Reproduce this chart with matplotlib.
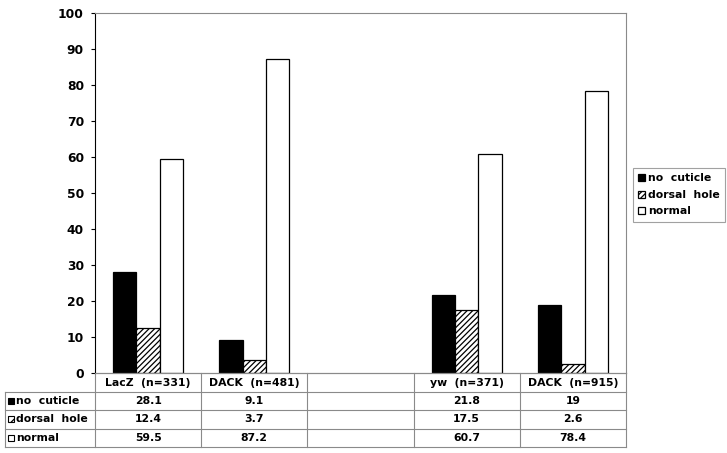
import numpy as np
import matplotlib
matplotlib.use("Agg")
import matplotlib.pyplot as plt
from matplotlib.patches import Rectangle
from matplotlib.lines import Line2D

GROUPS = ["LacZ  (n=331)", "DACK  (n=481)", "", "yw  (n=371)", "DACK  (n=915)"]
NO_CUTICLE = [28.1, 9.1, None, 21.8, 19]
DORSAL_HOLE = [12.4, 3.7, None, 17.5, 2.6]
NORMAL = [59.5, 87.2, None, 60.7, 78.4]
SERIES = ["no  cuticle", "dorsal  hole", "normal"]
YTICKS = [0, 10, 20, 30, 40, 50, 60, 70, 80, 90, 100]

plt.rcParams["font.family"] = ["DejaVu Sans"]
plt.rcParams["font.weight"] = "bold"
plt.rcParams["hatch.linewidth"] = 0.9

W, H = 727, 453
FS = 7.8
GRID = "#8a8a8a"

STYLES = [dict(color="black", edgecolor="black"),
          dict(color="white", edgecolor="black", hatch="//////"),
          dict(color="white", edgecolor="black")]


def vals(seq):
    return np.array([np.nan if v is None else v for v in seq], dtype=float)


def fmt(v):
    return "" if v is None else f"{v:g}"


fig = plt.figure(figsize=(W / 100, H / 100), dpi=100)
ax = fig.add_axes([95 / W, 1 - 373 / H, 531 / W, 360 / H])

x = np.arange(len(GROUPS))
width = 0.22
handles = []
for i, (name, data, st) in enumerate(zip(SERIES, [NO_CUTICLE, DORSAL_HOLE, NORMAL], STYLES)):
    b = ax.bar(x + (i - 1) * width, vals(data), width, lw=0.9, label=name, **st)
    handles.append(b)

ax.set_xlim(-0.5, len(GROUPS) - 0.5)
ax.set_ylim(0, 100)
ax.set_yticks(YTICKS)
ax.tick_params(axis="x", bottom=False, labelbottom=False)
ax.tick_params(axis="y", length=3, pad=5, labelsize=8.8, width=0.8)
for lab in ax.get_yticklabels():
    lab.set_fontweight("bold")
for side, sp in ax.spines.items():
    sp.set_linewidth(0.8)
    sp.set_color("black" if side == "left" else GRID)

# data table under the axes (axes-fraction coords)
row_h = 18.3 / 360
rows_y = [0, -19 / 360]
for k in range(3):
    rows_y.append(rows_y[-1] - row_h)
x_left = -90 / 531
n = len(GROUPS)
tr = ax.transAxes


def line(xs, ys):
    ax.add_line(Line2D(xs, ys, transform=tr, clip_on=False, color=GRID, lw=0.8))


for y in rows_y[1:]:
    line([x_left, 1], [y, y])
line([0, 1], [0, 0])
for j in range(n + 1):
    line([j / n, j / n], [0, rows_y[-1]])
line([x_left, x_left], [rows_y[1], rows_y[-1]])

for j, g in enumerate(GROUPS):
    ax.text((j + 0.5) / n, (rows_y[0] + rows_y[1]) / 2, g, transform=tr,
            ha="center", va="center", fontsize=FS, fontweight="bold")
for r, (name, data, st) in enumerate(zip(SERIES, [NO_CUTICLE, DORSAL_HOLE, NORMAL], STYLES)):
    yc = (rows_y[r + 1] + rows_y[r + 2]) / 2
    sq = 6
    ax.add_patch(Rectangle((-87 / 531, yc - sq / 2 / 360), sq / 531, sq / 360,
                           transform=tr, clip_on=False, lw=0.8,
                           facecolor=st["color"], edgecolor="black",
                           hatch="////" if "hatch" in st else None))
    ax.text(-79 / 531, yc, name, transform=tr, ha="left", va="center",
            fontsize=FS, fontweight="bold")
    for j, v in enumerate(data):
        ax.text((j + 0.5) / n, yc, fmt(v), transform=tr, ha="center",
                va="center", fontsize=FS, fontweight="bold")

leg = fig.legend(handles=handles, loc="upper left",
                 bbox_to_anchor=(633 / W, 1 - 168 / H),
                 fontsize=FS, frameon=True, fancybox=False, edgecolor=GRID,
                 handlelength=0.6, handleheight=0.6, handletextpad=0.3,
                 borderpad=0.5, labelspacing=0.6, borderaxespad=0)
leg.get_frame().set_linewidth(0.8)
for t in leg.get_texts():
    t.set_fontweight("bold")

fig.savefig("out.png", dpi=100)
